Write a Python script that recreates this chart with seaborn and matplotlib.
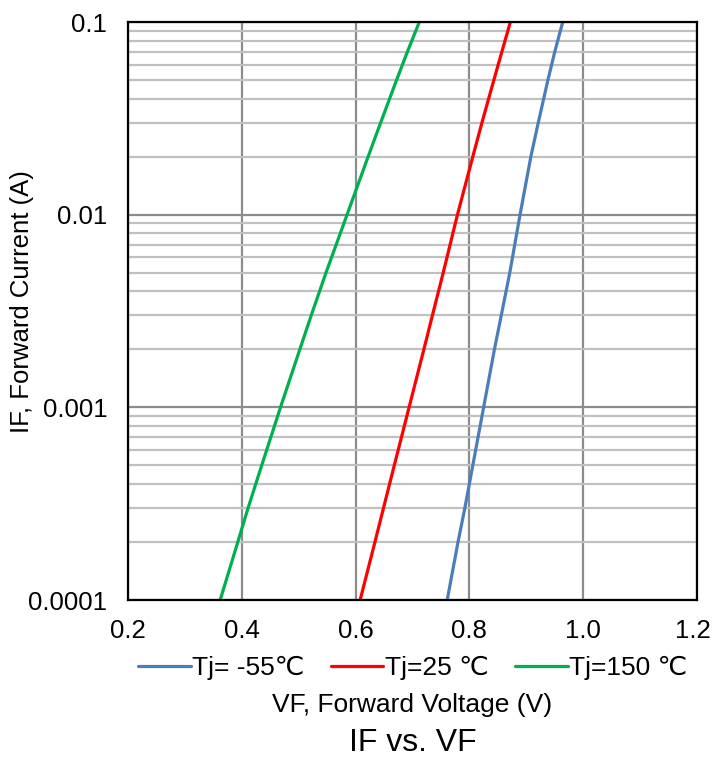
import numpy as np
import pandas as pd
import matplotlib
matplotlib.use("Agg")
import matplotlib.pyplot as plt
import matplotlib.transforms as mtransforms
import seaborn as sns

# forward current levels (A) read at each gridline
current = [0.0001, 0.0002, 0.0003, 0.0005, 0.001, 0.002, 0.003, 0.005,
           0.01, 0.02, 0.03, 0.05, 0.07, 0.1]

# forward voltage (V) per junction temperature
vf_m55 = [0.761, 0.780, 0.792, 0.806, 0.825, 0.844, 0.856, 0.871,
          0.889, 0.908, 0.921, 0.938, 0.950, 0.964]
vf_25 = [0.608, 0.634, 0.649, 0.668, 0.694, 0.720, 0.735, 0.754,
         0.779, 0.806, 0.822, 0.843, 0.857, 0.872]
vf_150 = [0.362, 0.393, 0.411, 0.435, 0.468, 0.502, 0.522, 0.548,
          0.585, 0.622, 0.644, 0.672, 0.691, 0.712]

labels = ["Tj= -55℃", "Tj=25 ℃", "Tj=150 ℃"]
colors = ["#4A7EBB", "#FF0000", "#00B050"]

frames = []
for lab, vf in zip(labels, [vf_m55, vf_25, vf_150]):
    frames.append(pd.DataFrame({"VF": vf, "IF": current, "Tj": lab}))
df = pd.concat(frames, ignore_index=True)

sns.set_style("white")
plt.rcParams["font.family"] = ["Liberation Sans", "DejaVu Sans"]
plt.rcParams["text.color"] = "black"
plt.rcParams["axes.labelcolor"] = "black"
plt.rcParams["xtick.color"] = "black"
plt.rcParams["ytick.color"] = "black"

fig = plt.figure(figsize=(7.13, 7.6), dpi=100)
ax = fig.add_axes([128 / 713, 1 - 600 / 760, 569 / 713, 578 / 760])

sns.lineplot(data=df, x="VF", y="IF", hue="Tj", palette=colors,
             sort=False, estimator=None, linewidth=2.3, ax=ax)

ax.set_yscale("log")
ax.set_xlim(0.2, 1.2)
ax.set_ylim(0.0001, 0.1)
ax.set_xticks([0.2, 0.4, 0.6, 0.8, 1.0, 1.2])
ax.set_xticklabels(["0.2", "0.4", "0.6", "0.8", "1.0", "1.2"])
ax.set_yticks([0.0001, 0.001, 0.01, 0.1])
ax.set_yticklabels(["0.0001", "0.001", "0.01", "0.1"])
ax.yaxis.set_minor_locator(matplotlib.ticker.LogLocator(base=10, subs=np.arange(2, 10)))
ax.yaxis.set_minor_formatter(matplotlib.ticker.NullFormatter())

ax.grid(True, which="major", axis="both", color="#8c8c8c", linewidth=1.6)
ax.grid(True, which="minor", axis="y", color="#c0c0c0", linewidth=1.6)
ax.set_axisbelow(True)
ax.tick_params(which="both", length=0, labelsize=18.5)
ax.tick_params(axis="x", pad=14)
ax.tick_params(axis="y", pad=15)

# keep the last x label inside the canvas
last = ax.get_xticklabels()[-1]
last.set_transform(last.get_transform() +
                   mtransforms.ScaledTranslation(-4 / 100, 0, fig.dpi_scale_trans))

for s in ax.spines.values():
    s.set_color("black")
    s.set_linewidth(1.6)

ax.set_xlabel("")
ax.set_ylabel("")
fig.text(22 / 713, 1 - 302 / 760, "IF, Forward Current (A)", rotation=90,
         ha="center", va="center", fontsize=18.5)

h, l = ax.get_legend_handles_labels()
ax.legend(h, l, loc="center", bbox_to_anchor=(0.5, (600 - 668) / 578), ncol=3,
          frameon=False, fontsize=19, handlelength=2.0, handletextpad=0.05,
          columnspacing=1.0)

fig.text(0.5 * (128 + 697) / 713, 1 - 705 / 760, "VF, Forward Voltage (V)",
         ha="center", va="center", fontsize=19)
fig.text(0.5 * (128 + 697) / 713, 1 - 743 / 760, "IF vs. VF",
         ha="center", va="center", fontsize=23)

fig.savefig("out.png", dpi=100)
